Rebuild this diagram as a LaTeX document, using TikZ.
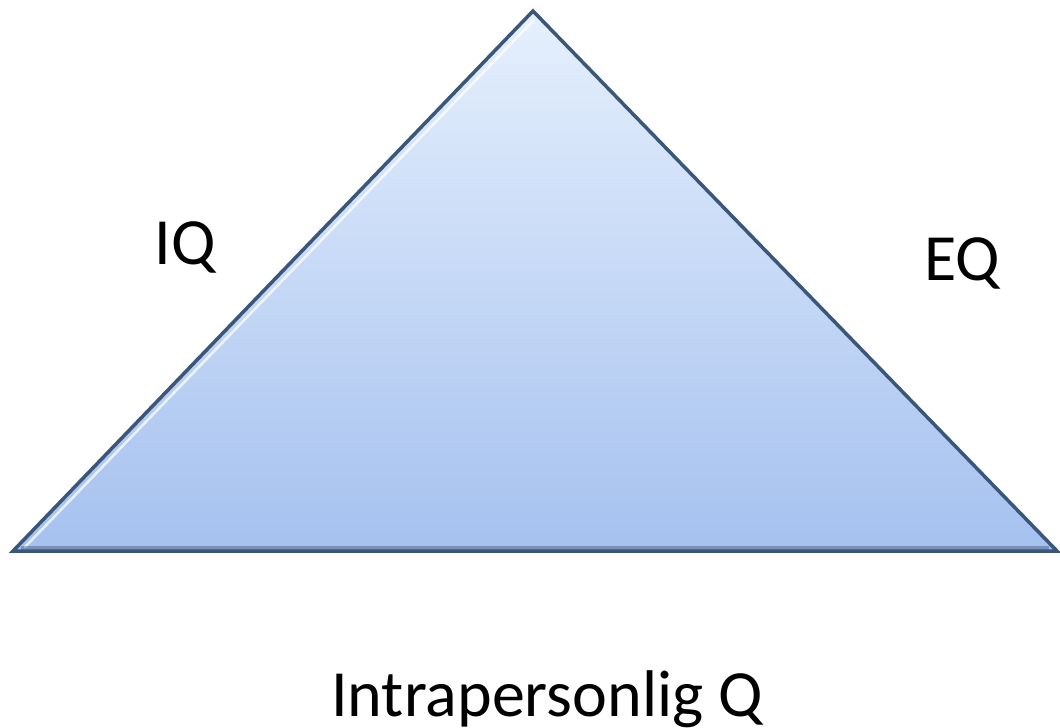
\documentclass[tikz,border=0pt]{standalone}
\usepackage{fontspec}
\setmainfont{Carlito}
\usetikzlibrary{calc}
\definecolor{topblue}{HTML}{E6F0FD}
\definecolor{botblue}{HTML}{A5C1EF}
\definecolor{edgeblue}{HTML}{3A5679}
\begin{document}
\begin{tikzpicture}[x=1pt,y=-1pt,
  lbl/.style={font=\fontsize{66}{70}\selectfont, text=black, inner sep=0pt, anchor=base}]
\useasboundingbox (0,0) rectangle (1060,728);
\coordinate (apex) at (533,11);
\coordinate (bl) at (13,551);
\coordinate (br) at (1057,551);
\shade[top color=topblue, bottom color=botblue]
  (apex) -- (br) -- (bl) -- cycle;
\draw[white, opacity=0.75, line width=2.5pt, line cap=round] ($(bl)+(12,-4)$) -- ($(apex)+(0,10)$);
\draw[edgeblue!70!black, opacity=0.35, line width=5pt] ($(bl)+(8,-3)$) -- ($(br)+(-8,-3)$);
\draw[edgeblue, line width=3.5pt, line join=miter] (apex) -- (br) -- (bl) -- cycle;
\node[lbl] (iq) at (185,264) {IQ};
\node[lbl] (eq) at (962,280) {EQ};
\node[lbl] (intra) at (547,716) {Intrapersonlig Q};
\end{tikzpicture}
\end{document}
